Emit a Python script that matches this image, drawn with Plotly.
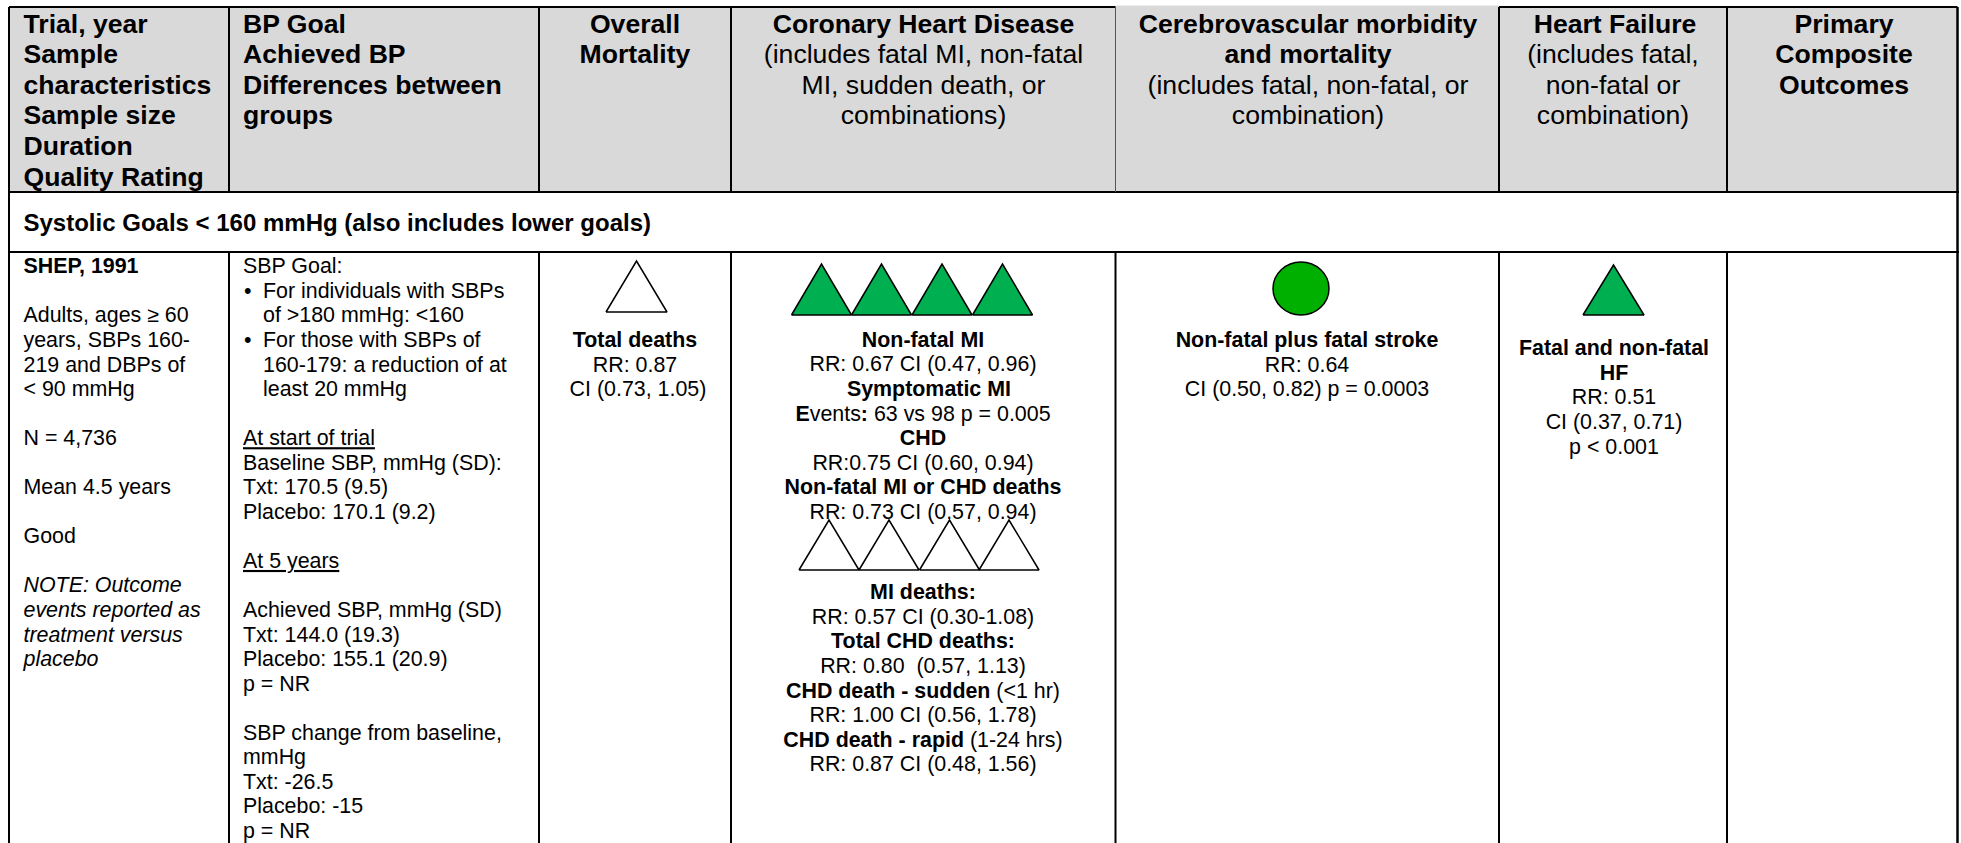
import plotly.graph_objects as go

FONT = "Liberation Sans"
W, H = 1961, 843

# ---- table geometry ----
col_edges = [9, 229, 539, 731, 1115.5, 1499, 1727]
header_bottom = 192
section_bottom = 252
top_edge = 7
right_edge = 1957.5
rule_end = 1959

# ---- header text ----
header_left = {
    23.5: ["Trial, year", "Sample", "characteristics", "Sample size", "Duration", "Quality Rating"],
    243: ["BP Goal", "Achieved BP", "Differences between", "groups"],
}
header_center = {
    635: ["<b>Overall</b>", "<b>Mortality</b>"],
    923.5: ["<b>Coronary Heart Disease</b>", "(includes fatal MI, non-fatal", "MI, sudden death, or", "combinations)"],
    1308: ["<b>Cerebrovascular morbidity</b>", "<b>and mortality</b>", "(includes fatal, non-fatal, or", "combination)"],
    1615: ["<b>Heart Failure</b>"],
    1844: ["<b>Primary</b>", "<b>Composite</b>", "<b>Outcomes</b>"],
}
hf_header_notes = ["(includes fatal,", "non-fatal or", "combination)"]
section_title = "Systolic Goals < 160 mmHg (also includes lower goals)"

# ---- body text ----
trial_lines = ["<b>SHEP, 1991</b>", "", "Adults, ages ≥ 60", "years, SBPs 160-", "219 and DBPs of", "< 90 mmHg", "",
               "N = 4,736", "", "Mean 4.5 years", "", "Good", "",
               "<i>NOTE: Outcome</i>", "<i>events reported as</i>", "<i>treatment versus</i>", "<i>placebo</i>"]
goal_lines = ["SBP Goal:", "", "", "", "", "", "",
              "<u>At start of trial</u>", "Baseline SBP, mmHg (SD):", "Txt: 170.5 (9.5)", "Placebo: 170.1 (9.2)", "",
              "<u>At 5 years</u>", "", "Achieved SBP, mmHg (SD)", "Txt: 144.0 (19.3)", "Placebo: 155.1 (20.9)", "p = NR", "",
              "SBP change from baseline,", "mmHg", "Txt: -26.5", "Placebo: -15", "p = NR"]
goal_bullet_lines = ["", "For individuals with SBPs", "of >180 mmHg: <160", "For those with SBPs of",
                     "160-179: a reduction of at", "least 20 mmHg"]
goal_bullets = ["", "•", "", "•", "", ""]
mortality_lines = ["<b>Total deaths</b>", "RR: 0.87", "\u00a0CI (0.73, 1.05)"]
chd_lines_a = ["<b>Non-fatal MI</b>", "RR: 0.67 CI (0.47, 0.96)", "\u00a0\u00a0<b>Symptomatic MI</b>",
               "<b>E</b>vents<b>:</b> 63 vs 98 p = 0.005", "<b>CHD</b>", "RR:0.75 CI (0.60, 0.94)",
               "<b>Non-fatal MI or CHD deaths</b>", "RR: 0.73 CI (0.57, 0.94)"]
chd_lines_b = ["<b>MI deaths:</b>", "RR: 0.57 CI (0.30-1.08)", "<b>Total CHD deaths:</b>", "RR: 0.80\u00a0\u00a0(0.57, 1.13)",
               "<b>CHD death - sudden</b> (<1 hr)", "RR: 1.00 CI (0.56, 1.78)",
               "<b>CHD death - rapid</b> (1-24 hrs)", "RR: 0.87 CI (0.48, 1.56)"]
stroke_lines = ["<b>Non-fatal plus fatal stroke</b>", "RR: 0.64", "CI (0.50, 0.82) p = 0.0003"]
hf_lines = ["<b>Fatal and non-fatal</b>", "<b>HF</b>", "RR: 0.51", "CI (0.37, 0.71)", "p < 0.001"]

# ---- outcome symbols: left edges of each triangle, width, apex y, base y, fill ----
GREEN = "#00B050"
CIRCLE_GREEN = "#00B000"
symbols = [
    ([606], 61, 261, 312, "white"),
    ([791.5, 851.5, 912, 972.5], 60, 264, 315, GREEN),
    ([799, 859, 919.5, 979], 60, 520, 570, "white"),
    ([1583], 61, 265, 315, GREEN),
]
circle_box = (1273, 1329, 262, 315)

HEADER_SIZE = 26.6
BODY_SIZE = 21.4
SECTION_SIZE = 24
HEADER_PITCH = 30.6
BODY_PITCH = 24.55

fig = go.Figure()


def add_text(x, y_first, lines, pitch, size, anchor, bold=False):
    xs, ys, txt = [], [], []
    for i, line in enumerate(lines):
        if line:
            xs.append(x)
            ys.append(y_first + i * pitch)
            txt.append(f"<b>{line}</b>" if bold else line)
    fig.add_trace(go.Scatter(x=xs, y=ys, text=txt, mode="text",
                             textposition="middle right" if anchor == "l" else "middle center",
                             textfont=dict(family=FONT, size=size, color="black"),
                             hoverinfo="skip", showlegend=False, cliponaxis=False))


# header fill and grid
fill = "#D9D9D9"
shapes = [
    dict(type="rect", x0=col_edges[0], x1=right_edge, y0=top_edge, y1=header_bottom, fillcolor=fill, line_width=0, layer="below"),
    dict(type="rect", x0=col_edges[4], x1=col_edges[5], y0=top_edge - 1.5, y1=top_edge, fillcolor=fill, line_width=0, layer="below"),
]
LINE = dict(color="black", width=2)
THIN = dict(color="#555555", width=1)
for x0, x1 in [(col_edges[0], col_edges[4]), (col_edges[5], right_edge)]:
    shapes.append(dict(type="line", x0=x0, x1=x1, y0=top_edge, y1=top_edge, line=LINE))
for y in (header_bottom, section_bottom):
    shapes.append(dict(type="line", x0=col_edges[0], x1=rule_end, y0=y, y1=y, line=LINE))
shapes.append(dict(type="line", x0=col_edges[0], x1=col_edges[0], y0=top_edge, y1=H, line=LINE))
shapes.append(dict(type="line", x0=right_edge, x1=right_edge, y0=top_edge, y1=H, line=dict(color="black", width=2.5)))
for i, x in enumerate(col_edges[1:], start=1):
    thin_head = i == 4
    shapes.append(dict(type="line", x0=x, x1=x, y0=top_edge, y1=header_bottom, line=THIN if thin_head else LINE))
    shapes.append(dict(type="line", x0=x, x1=x, y0=section_bottom, y1=H, line=LINE))

# symbols
for lefts, w, apex, base, color in symbols:
    xs, ys = [], []
    for l in lefts:
        xs += [l, l + w / 2, l + w, l, None]
        ys += [base, apex, base, base, None]
    fig.add_trace(go.Scatter(x=xs, y=ys, mode="lines", fill="toself", fillcolor=color,
                             line=dict(color="black", width=1.5), hoverinfo="skip", showlegend=False))
shapes.append(dict(type="circle", x0=circle_box[0], x1=circle_box[1], y0=circle_box[2], y1=circle_box[3],
                   fillcolor=CIRCLE_GREEN, line=dict(color="black", width=1.5)))

# text
for x, lines in header_left.items():
    add_text(x, 26, lines, HEADER_PITCH, HEADER_SIZE, "l", bold=True)
for x, lines in header_center.items():
    add_text(x, 26, lines, HEADER_PITCH, HEADER_SIZE, "c")
add_text(1613, 26 + HEADER_PITCH, hf_header_notes, HEADER_PITCH, HEADER_SIZE, "c")
add_text(23.5, 225, [section_title], 0, SECTION_SIZE, "l", bold=True)

add_text(23.5, 268, trial_lines, BODY_PITCH, BODY_SIZE, "l")
add_text(243, 268, goal_lines, BODY_PITCH, BODY_SIZE, "l")
add_text(263, 268, goal_bullet_lines, BODY_PITCH, BODY_SIZE, "l")
add_text(244, 268, goal_bullets, BODY_PITCH, BODY_SIZE, "l")
add_text(635, 342, mortality_lines, BODY_PITCH, BODY_SIZE, "c")
add_text(923, 341.6, chd_lines_a, BODY_PITCH, BODY_SIZE, "c")
add_text(923, 594, chd_lines_b, BODY_PITCH, BODY_SIZE, "c")
add_text(1307, 342, stroke_lines, BODY_PITCH, BODY_SIZE, "c")
add_text(1614, 350, hf_lines, BODY_PITCH, BODY_SIZE, "c")

fig.update_layout(
    width=W, height=H, margin=dict(l=0, r=0, t=0, b=0),
    paper_bgcolor="white", plot_bgcolor="white", shapes=shapes, showlegend=False,
    xaxis=dict(range=[0, W], visible=False, fixedrange=True),
    yaxis=dict(range=[H, 0], visible=False, fixedrange=True),
)
fig.write_html("out.html", config={"displayModeBar": False},
               default_width=W, default_height=H,
               post_script="document.body.style.margin='0';")
